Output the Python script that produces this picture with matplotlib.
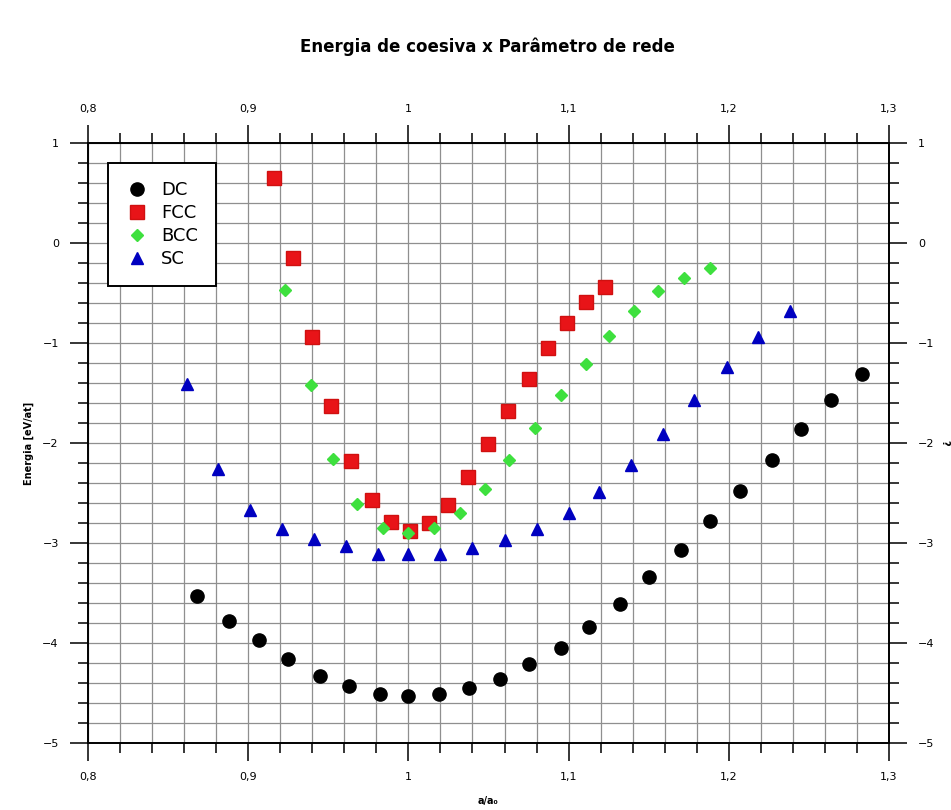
import matplotlib
matplotlib.use("Agg")
import matplotlib.pyplot as plt
from matplotlib.ticker import MultipleLocator, FuncFormatter

# Energia de coesiva x parametro de rede (a/a0)
dc_x = [0.868, 0.888, 0.907, 0.925, 0.945, 0.963, 0.982, 1.000, 1.019, 1.038, 1.057,
        1.075, 1.095, 1.113, 1.132, 1.150, 1.170, 1.188, 1.207, 1.227, 1.245, 1.264, 1.283]
dc_y = [-3.53, -3.78, -3.97, -4.16, -4.33, -4.43, -4.51, -4.53, -4.51, -4.45, -4.36,
        -4.21, -4.05, -3.84, -3.61, -3.34, -3.07, -2.78, -2.48, -2.17, -1.86, -1.57, -1.31]

fcc_x = [0.916, 0.928, 0.940, 0.952, 0.964, 0.977, 0.989, 1.001, 1.013, 1.025, 1.037,
         1.050, 1.062, 1.075, 1.087, 1.099, 1.111, 1.123]
fcc_y = [0.65, -0.15, -0.94, -1.63, -2.18, -2.57, -2.79, -2.88, -2.80, -2.62, -2.34,
         -2.01, -1.68, -1.36, -1.05, -0.80, -0.59, -0.44]

bcc_x = [0.923, 0.939, 0.953, 0.968, 0.984, 1.000, 1.016, 1.032, 1.048, 1.063, 1.079,
         1.095, 1.111, 1.125, 1.141, 1.156, 1.172, 1.188]
bcc_y = [-0.47, -1.42, -2.16, -2.61, -2.85, -2.90, -2.85, -2.70, -2.46, -2.17, -1.85,
         -1.52, -1.21, -0.93, -0.68, -0.48, -0.35, -0.25]

sc_x = [0.862, 0.881, 0.901, 0.921, 0.941, 0.961, 0.981, 1.000, 1.020, 1.040, 1.060,
        1.080, 1.100, 1.119, 1.139, 1.159, 1.178, 1.199, 1.218, 1.238]
sc_y = [-1.41, -2.26, -2.67, -2.86, -2.96, -3.03, -3.11, -3.11, -3.11, -3.05, -2.97,
        -2.86, -2.70, -2.49, -2.22, -1.91, -1.57, -1.24, -0.94, -0.68]

fig = plt.figure(figsize=(9.51, 8.10), dpi=100)
ax = fig.add_axes([0.0925, 0.0827, 0.8423, 0.7404])

ax.plot(dc_x, dc_y, "o", color="black", markersize=9.5, label="DC", zorder=3)
ax.plot(fcc_x, fcc_y, "s", color="#e81418", markeredgecolor="#d01010", markersize=10.5, label="FCC", zorder=3)
ax.plot(bcc_x, bcc_y, "D", color="#3ee03e", markersize=6, label="BCC", zorder=3)
ax.plot(sc_x, sc_y, "^", color="#0000c0", markersize=8.5, label="SC", zorder=3)

ax.set_xlim(0.8, 1.3)
ax.set_ylim(-5, 1)

ax.xaxis.set_major_locator(MultipleLocator(0.1))
ax.xaxis.set_minor_locator(MultipleLocator(0.02))
ax.yaxis.set_major_locator(MultipleLocator(1))
ax.yaxis.set_minor_locator(MultipleLocator(0.2))


def fmt(v, pos):
    s = "{:g}".format(round(v, 2)).replace(".", ",")
    return s.replace("-", "\u2212")


ax.xaxis.set_major_formatter(FuncFormatter(fmt))
ax.yaxis.set_major_formatter(FuncFormatter(fmt))

ax.tick_params(which="both", direction="out", top=True, right=True,
               labeltop=True, labelright=True, width=1.1, colors="black")
ax.tick_params(which="major", length=13, labelsize=8, pad=8)
ax.tick_params(which="minor", length=7)

ax.grid(which="both", color="#8f8f8f", linewidth=0.9)
ax.set_axisbelow(True)
for sp in ax.spines.values():
    sp.set_linewidth(1.4)

ax.set_xlabel("a/a\u2080", fontsize=7, fontweight="bold", labelpad=10)
ax.set_ylabel("Energia [eV/at]", fontsize=7, fontweight="bold", labelpad=6)

leg = ax.legend(loc="upper left", bbox_to_anchor=(0.025, 0.967), fontsize=13,
                frameon=True, fancybox=False, handlelength=1.2, handletextpad=0.75,
                borderpad=1.0, labelspacing=0.28, borderaxespad=0)
leg.get_frame().set_edgecolor("black")
leg.get_frame().set_linewidth(1.4)
leg.get_frame().set_alpha(1)

fig.text(0.513, 1 - 47 / 810, "Energia de coesiva x Par\u00e2metro de rede",
         ha="center", va="center", fontsize=12, fontweight="bold")
fig.text(0.993, 1 - 443 / 810, "?", rotation=-90, ha="center", va="center",
         fontsize=7, fontweight="bold")

fig.savefig("out.png", dpi=100)
